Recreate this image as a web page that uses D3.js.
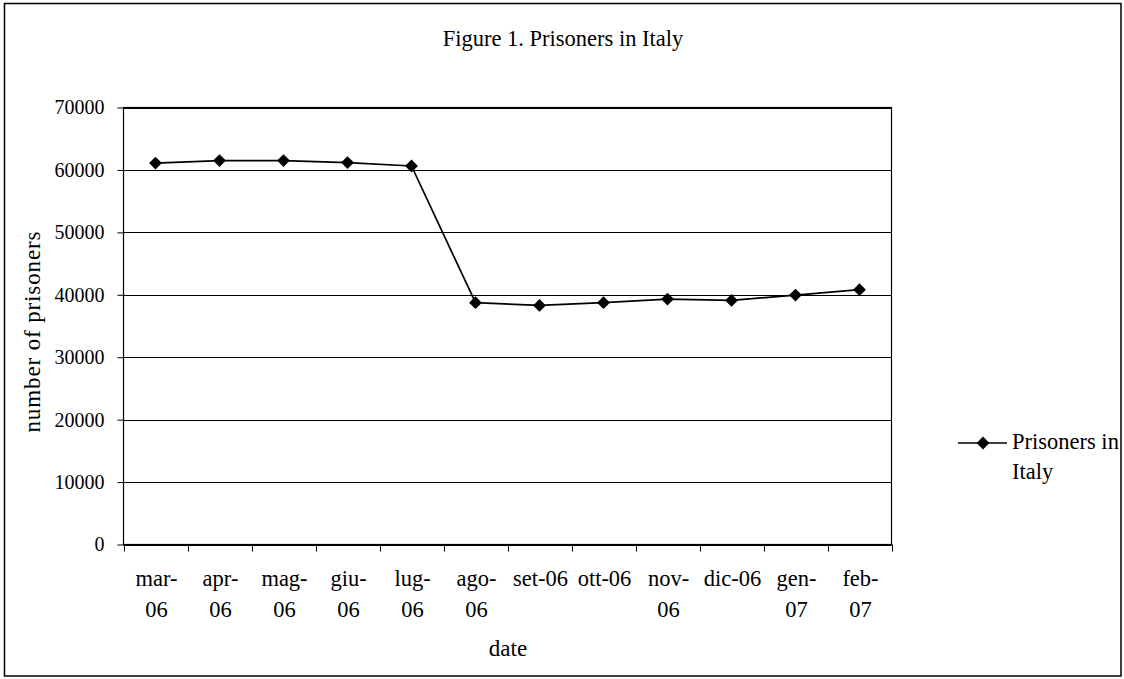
<!DOCTYPE html>
<html><head><meta charset="utf-8">
<script src="https://cdn.jsdelivr.net/npm/d3@7"></script>
<style>body{margin:0;background:#fff}svg{display:block}text{font-family:"Liberation Serif","Times New Roman",serif;fill:#000}</style>
</head><body>
<script>
const categories = ["mar-06","apr-06","mag-06","giu-06","lug-06","ago-06","set-06","ott-06","nov-06","dic-06","gen-07","feb-07"];
const labelLines = [["mar-","06"],["apr-","06"],["mag-","06"],["giu-","06"],["lug-","06"],["ago-","06"],["set-06"],["ott-06"],["nov-","06"],["dic-06"],["gen-","07"],["feb-","07"]];
const prisoners = [61100, 61500, 61500, 61170, 60630, 38730, 38300, 38730, 39310, 39100, 39950, 40820];
const yTicks = [0,10000,20000,30000,40000,50000,60000,70000];
const seriesName = ["Prisoners in","Italy"];

const W=1124,H=679;
const svg=d3.select("body").append("svg").attr("width",W).attr("height",H);
svg.append("defs").append("clipPath").attr("id","cp").append("rect").attr("x",4).attr("y",3).attr("width",1117).attr("height",673);
svg.append("rect").attr("x",4.5).attr("y",3.5).attr("width",1116.5).attr("height",672.5).attr("fill","#fff").attr("stroke","#000").attr("stroke-width",1.5);

const L=123.5,R=891.5,T=107.5,B=544.5;
const x=d3.scaleBand().domain(categories).range([L,R]).padding(0);
const y=d3.scaleLinear().domain([0,70000]).range([B,T]);

// gridlines
svg.append("g").selectAll("line").data(yTicks).join("line")
  .attr("x1",L).attr("x2",R).attr("y1",d=>Math.round(y(d))+0.5).attr("y2",d=>Math.round(y(d))+0.5)
  .attr("stroke","#000").attr("stroke-width",1);
svg.append("rect").attr("x",L).attr("y",T).attr("width",R-L).attr("height",B-T).attr("fill","none").attr("stroke","#000").attr("stroke-width",1.2);

// y axis
const ya=svg.append("g").attr("transform",`translate(${L},0)`).call(d3.axisLeft(y).tickValues(yTicks).tickFormat(d3.format("d")).tickSize(6).tickPadding(13));
ya.select(".domain").remove();
ya.selectAll("line").attr("stroke","#000");
ya.selectAll("text").style("font-size","20px").style("font-family","Liberation Serif");

// x axis ticks at band boundaries
const bounds=categories.map(c=>x(c)).concat([R]);
svg.append("g").selectAll("line").data(bounds).join("line")
  .attr("x1",d=>Math.round(d)+0.5).attr("x2",d=>Math.round(d)+0.5).attr("y1",B).attr("y2",B+7).attr("stroke","#000");
const xl=svg.append("g");
categories.forEach((c,i)=>{
  const cx=x(c)+x.bandwidth()/2+1;
  const t=xl.append("text").attr("text-anchor","middle").style("font-size","22.5px");
  labelLines[i].forEach((ln,j)=>t.append("tspan").attr("x",cx).attr("y",586+j*31).text(ln));
});

// line
const line=d3.line().x((d,i)=>x(categories[i])+x.bandwidth()/2).y(d=>y(d));
svg.append("path").datum(prisoners).attr("d",line).attr("fill","none").attr("stroke","#000").attr("stroke-width",1.7);
svg.append("g").selectAll("path").data(prisoners).join("path")
  .attr("transform",(d,i)=>`translate(${x(categories[i])+x.bandwidth()/2},${y(d)}) rotate(45)`)
  .attr("d",d3.symbol().type(d3.symbolSquare).size(82)).attr("fill","#000");

// title & axis titles
svg.append("text").attr("x",563).attr("y",46).attr("text-anchor","middle").style("font-size","22.5px").text("Figure 1. Prisoners in Italy");
svg.append("text").attr("x",508).attr("y",656).attr("text-anchor","middle").style("font-size","23px").text("date");
svg.append("text").attr("transform","translate(40,332) rotate(-90)").attr("text-anchor","middle").style("font-size","23px").attr("textLength",201).attr("lengthAdjust","spacing").text("number of prisoners");

// legend
const lg=svg.append("g").attr("clip-path","url(#cp)");
lg.append("line").attr("x1",958).attr("x2",1007).attr("y1",443).attr("y2",443).attr("stroke","#000").attr("stroke-width",1.7);
lg.append("path").attr("transform","translate(983,443) rotate(45)").attr("d",d3.symbol().type(d3.symbolSquare).size(82)).attr("fill","#000");
const lt=lg.append("text").style("font-size","22.5px");
seriesName.forEach((s,j)=>lt.append("tspan").attr("x",1012).attr("y",449+j*30).text(s));
</script>
</body></html>
